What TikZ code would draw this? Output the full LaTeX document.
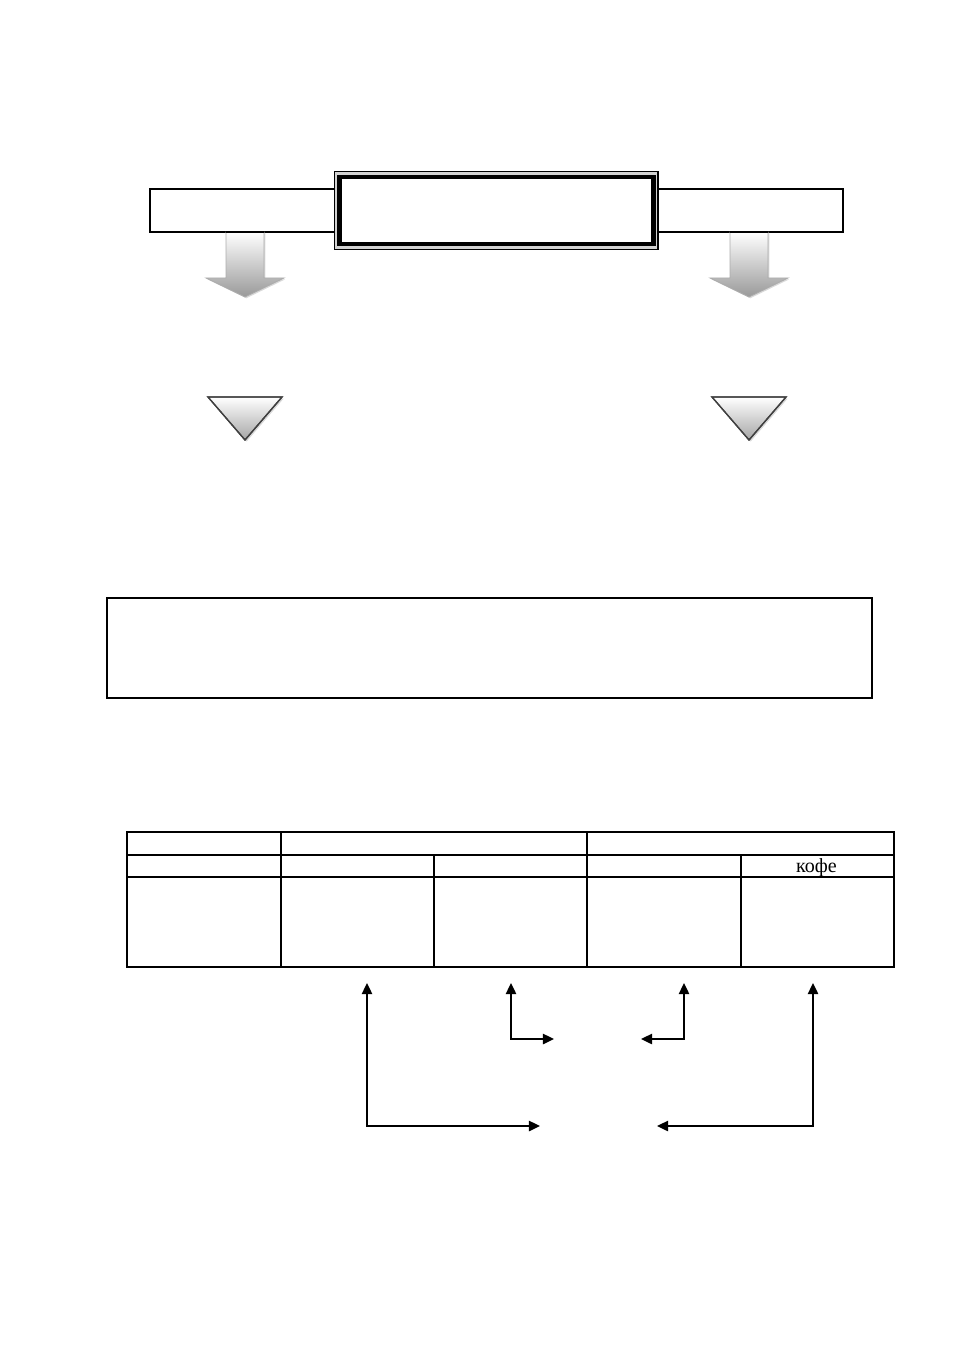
\documentclass[tikz,border=0pt]{standalone}
\usepackage{fontspec}
\setmainfont{Liberation Serif}
\usetikzlibrary{arrows.meta,positioning,calc,shadows}

\begin{document}
\begin{tikzpicture}[x=0.6237pt, y=-0.6237pt, >=Triangle,
  box/.style={draw, line width=0.7pt, fill=white, inner sep=0pt},
  cell/.style args={#1/#2}{draw, line width=0.85pt, inner sep=0pt, minimum width=#1*0.6237pt, minimum height=#2*0.6237pt},
  blockarr/.style={draw=gray!65, line width=0.5pt, top color=white, bottom color=gray!80, drop shadow={shadow xshift=0.8pt, shadow yshift=-0.8pt, opacity=0.3}},
  tri/.style={draw=gray!50!black, line width=0.8pt, top color=white, bottom color=gray!70, drop shadow={shadow xshift=1pt, shadow yshift=-1pt, opacity=0.3}},
  arr/.style={{Triangle[length=7pt, width=6.5pt]}-{Triangle[length=7pt, width=6.5pt]}, line width=1.1pt} ]

\useasboundingbox (0,0) rectangle (954,1350);

% top bar and title
\node[box, minimum width=432.2pt, minimum height=26.8pt] (bar) at (496.5,210.5) {};
\node[box, fill=gray!35, minimum width=201.8pt, minimum height=48.65pt] (titleout) at (496.25,210.5) {};
\node[box, line width=3.1pt, minimum width=195.8pt, minimum height=41.8pt] (title) at (496.5,210.5) {};

% block arrows and triangles
\foreach \cx in {245,749} {
  \shade[blockarr] (\cx-19,232) -- (\cx+19,232) -- (\cx+19,278) -- (\cx+39,278) -- (\cx,297) -- (\cx-39,278) -- (\cx-19,278) -- cycle;
  \draw[line width=0.7pt] (\cx-19,232) -- (\cx+19,232);
  \shade[tri] (\cx-37,397) -- (\cx+37,397) -- (\cx,440) -- cycle;
  \draw[draw=gray!50!black, line width=0.8pt] (\cx-37,397) -- (\cx+37,397) -- (\cx,440) -- cycle;
}

% wide box
\node[box, line width=0.9pt, minimum width=477.1pt, minimum height=62.4pt] (note) at (489.5,648) {};

% table
\node[cell=154/23] (c11) at (204,843.5) {};
\node[cell=306/23] (c12) at (434,843.5) {};
\node[cell=307/23] (c13) at (740.5,843.5) {};
\node[cell=154/22] (c21) at (204,866) {};
\node[cell=153/22] (c22) at (357.5,866) {};
\node[cell=153/22] (c23) at (510.5,866) {};
\node[cell=154/22] (c24) at (664,866) {};
\node[cell=153/22] (c25) at (817.5,866) {};
\node[cell=154/90] (c31) at (204,922) {};
\node[cell=153/90] (c32) at (357.5,922) {};
\node[cell=153/90] (c33) at (510.5,922) {};
\node[cell=154/90] (c34) at (664,922) {};
\node[cell=153/90] (c35) at (817.5,922) {};
\node[anchor=base, inner sep=0pt] (coffee) at (816.5,872.5) {\fontsize{12.5}{14}\selectfont кофе};

% connectors below the table
\coordinate (uA) at (367,983);
\coordinate (eA) at (540,1126);
\coordinate (uB) at (511,983);
\coordinate (eB) at (554,1039);
\coordinate (uC) at (684,983);
\coordinate (eC) at (641,1039);
\coordinate (uD) at (813,983);
\coordinate (eD) at (657,1126);

\draw[arr] (uA) |- (eA);
\draw[arr] (uB) |- (eB);
\draw[arr] (uC) |- (eC);
\draw[arr] (uD) |- (eD);

\end{tikzpicture}
\end{document}
